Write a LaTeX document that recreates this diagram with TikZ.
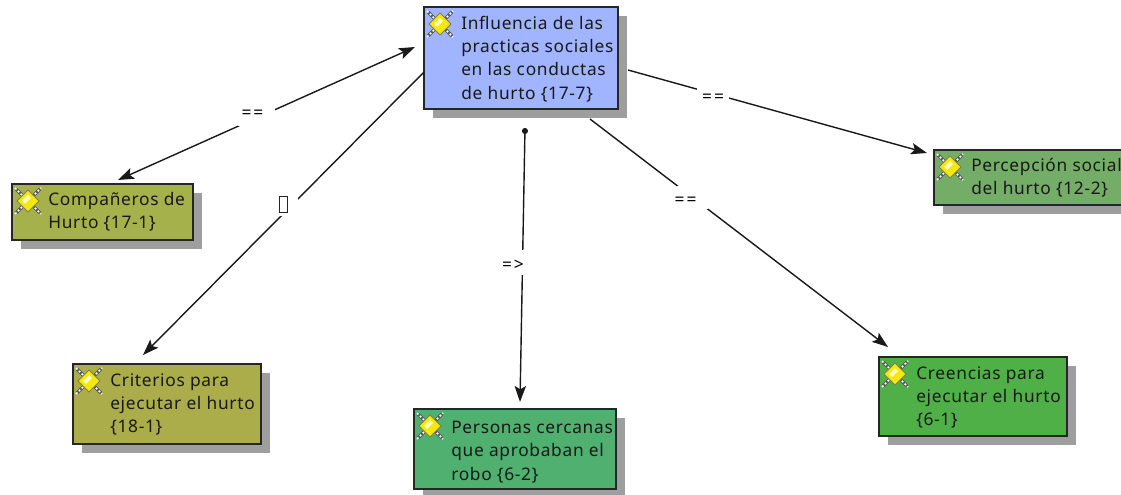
\documentclass[tikz,border=0pt]{standalone}
\usepackage{fontspec}
\setmainfont[LetterSpace=4]{Noto Sans}
\usetikzlibrary{arrows.meta}
\definecolor{cmain}{HTML}{A0B4FF}
\definecolor{ccomp}{HTML}{A5B24C}
\definecolor{cperc}{HTML}{74AD67}
\definecolor{ccrit}{HTML}{ABAD4B}
\definecolor{cpers}{HTML}{50B070}
\definecolor{ccree}{HTML}{50B048}
\tikzset{
  x=0.75pt,y=-0.75pt,
  tipa/.tip={Stealth[length=12pt,width=8.5pt,inset=2.5pt]},
  conn/.style={line width=1.05pt,draw=black!90,-tipa},
  connb/.style={line width=1.05pt,draw=black!90,tipa-tipa},
  connd/.style={line width=1.05pt,draw=black!90,{Circle[length=4.5pt]}-tipa},
  rel/.style={inner sep=0pt,font=\fontsize{13}{14}\selectfont},
  shade box/.style={fill=black!38,draw=none},
  body/.style={draw=black!85,line width=1.1pt},
  caption/.style={anchor=north west,align=left,inner sep=0pt,text=black!90,font=\fontsize{13}{17.4}\selectfont},
}
% #1 name, #2 x1, #3 y1, #4 x2, #5 y2, #6 colour, #7 text x, #8 text y, #9 text
\newcommand{\conceptbox}[9]{%
  \fill[shade box] (#2+9,#3+9) rectangle (#4+9,#5+9);
  \node[body,fill=#6,rectangle,inner sep=0pt,outer sep=0pt,
    minimum width={(#4-#2)*0.75pt},minimum height={(#5-#3)*0.75pt}]
    (#1) at ({(#2+#4)/2},{(#3+#5)/2}) {};
  \begin{scope}[shift={(#2+16,#3+17)}]
    \draw[black!65,line width=2.4pt] (-12,-12) -- (12,12) (-12,12) -- (12,-12);
    \draw[white,line width=1.2pt,dash pattern=on 1.5pt off 1.5pt] (-13,-13) -- (13,13) (-13,13) -- (13,-13);
    \fill[yellow!95!black,draw=black!55!yellow,line width=0.7pt] (-11,0) -- (0,-11) -- (11,0) -- (0,11) -- cycle;
    \fill[yellow!25] (-6,0) -- (0,-6) -- (3,-3) -- (-3,3) -- cycle;
  \end{scope}
  \node[caption] (#1text) at (#7,#8) {#9};
}
\begin{document}
\begin{tikzpicture}
\useasboundingbox (0,0) rectangle (1121,495);
\fill[white] (0,0) rectangle (1121,495);
\conceptbox{main}{424}{7}{618}{109}{cmain}{461}{16}{Influencia de las\\practicas sociales\\en las conductas\\de hurto \{17-7\}}
\conceptbox{comp}{12}{184}{193}{240}{ccomp}{48}{192}{Compañeros de\\Hurto \{17-1\}}
\conceptbox{perc}{934}{150}{1135}{205}{cperc}{971}{158}{Percepción social\\del hurto \{12-2\}}
\conceptbox{crit}{73}{364}{261}{444}{ccrit}{110}{373}{Criterios para\\ejecutar el hurto\\\{18-1\}}
\conceptbox{pers}{414}{409}{616}{489}{cpers}{451}{421}{Personas cercanas\\que aprobaban el\\robo \{6-2\}}
\conceptbox{cree}{879}{357}{1067}{436}{ccree}{916}{366}{Creencias para\\ejecutar el hurto\\\{6-1\}}
\draw[connb] ([shift={(-9,-11)}]main.west) -- ([shift={(15.5,-4)}]comp.north);
\draw[conn] ([shift={(0,14)}]main.west) -- ([shift={(-24,-9)}]crit.north);
\draw[connd] ([shift={(4,19)}]main.south) -- ([shift={(5,-7)}]pers.north);
\draw[conn] ([shift={(69,10)}]main.south) -- ([shift={(-85,-10)}]cree.north);
\draw[conn] ([shift={(10,12)}]main.east) -- ([shift={(-7,-24.5)}]perc.west);
% gaps that the labels leave in their connectors
\fill[white] (238,100) rectangle (275,126);
\fill[white] (278,198) rectangle (298,216);
\fill[white] (500,250) rectangle (530,275);
\fill[white] (677,186) rectangle (708,209);
\fill[white] (697,85) rectangle (729,105);
\node[rel] (l1) at (252.5,114) {=\kern1.5pt=};
\node[draw=black!85,line width=0.9pt,inner sep=0pt,minimum width=5.5pt,minimum height=12pt] (l2) at (283.5,204.5) {};
\node[rel] (l3) at (513,265) {=\kern1.5pt>};
\node[rel] (l4) at (685.5,201.5) {=\kern1.5pt=};
\node[rel] (l5) at (713,98) {=\kern1.5pt=};
\end{tikzpicture}
\end{document}
